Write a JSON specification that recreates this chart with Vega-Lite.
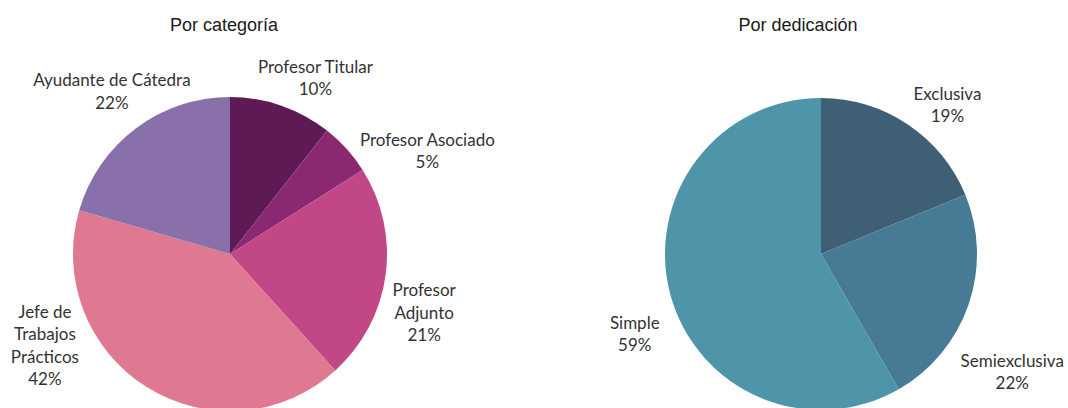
{
  "$schema": "https://vega.github.io/schema/vega-lite/v6.json",
  "padding": {"left": 0, "top": 16, "right": 0, "bottom": 0},
  "bounds": "flush",
  "spacing": 131,
  "config": {"view": {"stroke": null}},
  "resolve": {"scale": {"color": "independent", "theta": "independent"}},
  "hconcat": [
    {
      "width": 460,
      "height": 314,
      "title": {"text": "Por categoría", "font": "Liberation Sans", "fontSize": 18, "fontWeight": "normal", "color": "#1a1a1a", "anchor": "middle", "frame": "group", "baseline": "alphabetic", "offset": 10, "dx": -6},
      "data": {"values": [
        {"cat": "Profesor Titular", "v": 10.6, "o": 1, "label": "Profesor Titular\n10%"},
        {"cat": "Profesor Asociado", "v": 5.4, "o": 2, "label": "Profesor Asociado\n5%"},
        {"cat": "Profesor Adjunto", "v": 22.3, "o": 3, "label": "Profesor\nAdjunto\n21%"},
        {"cat": "Jefe de Trabajos Prácticos", "v": 41.2, "o": 4, "label": "Jefe de\nTrabajos\nPrácticos\n42%"},
        {"cat": "Ayudante de Cátedra", "v": 20.5, "o": 5, "label": "Ayudante de Cátedra\n22%"}
      ]},
      "encoding": {
        "theta": {"field": "v", "type": "quantitative", "stack": true},
        "order": {"field": "o", "type": "quantitative"}
      },
      "layer": [
        {
          "mark": {"type": "arc", "radius": 157},
          "encoding": {
            "color": {"field": "cat", "type": "nominal", "legend": null,
              "scale": {"domain": ["Profesor Titular", "Profesor Asociado", "Profesor Adjunto", "Jefe de Trabajos Prácticos", "Ayudante de Cátedra"],
                        "range": ["#5E1A55", "#8B2872", "#C14787", "#DF7891", "#8A70AA"]}}
          }
        },
        {
          "mark": {"type": "text", "radius": 200, "font": "Lato", "fontSize": 17, "fill": "#333333", "lineBreak": "\n", "lineHeight": 22.5,
            "dx": {"expr": "datum.cat === 'Profesor Titular' ? 20 : datum.cat === 'Profesor Asociado' ? 49 : datum.cat === 'Profesor Adjunto' ? -4 : datum.cat === 'Jefe de Trabajos Prácticos' ? -79 : 2"},
            "dy": {"expr": "datum.cat === 'Profesor Titular' ? 3 : datum.cat === 'Profesor Asociado' ? 21 : datum.cat === 'Profesor Adjunto' ? 10.5 : datum.cat === 'Jefe de Trabajos Prácticos' ? -111 : -13"}},
          "encoding": {"text": {"field": "label", "type": "nominal"}}
        }
      ]
    },
    {
      "width": 460,
      "height": 314,
      "title": {"text": "Por dedicación", "font": "Liberation Sans", "fontSize": 18, "fontWeight": "normal", "color": "#1a1a1a", "anchor": "middle", "frame": "group", "baseline": "alphabetic", "offset": 37, "dx": -23},
      "data": {"values": [
        {"cat": "Exclusiva", "v": 18.8, "o": 1, "label": "Exclusiva\n19%"},
        {"cat": "Semiexclusiva", "v": 22.9, "o": 2, "label": "Semiexclusiva\n22%"},
        {"cat": "Simple", "v": 58.3, "o": 3, "label": "Simple\n59%"}
      ]},
      "encoding": {
        "theta": {"field": "v", "type": "quantitative", "stack": true},
        "order": {"field": "o", "type": "quantitative"}
      },
      "layer": [
        {
          "mark": {"type": "arc", "radius": 156},
          "encoding": {
            "color": {"field": "cat", "type": "nominal", "legend": null,
              "scale": {"domain": ["Exclusiva", "Semiexclusiva", "Simple"],
                        "range": ["#3F5F75", "#477A95", "#4F95AA"]}}
          }
        },
        {
          "mark": {"type": "text", "radius": 200, "font": "Lato", "fontSize": 17, "fill": "#333333", "lineBreak": "\n", "lineHeight": 22.5,
            "dx": {"expr": "datum.cat === 'Exclusiva' ? 15 : datum.cat === 'Semiexclusiva' ? 2 : 7"},
            "dy": {"expr": "datum.cat === 'Exclusiva' ? 7 : datum.cat === 'Semiexclusiva' ? 43 : 18"}},
          "encoding": {"text": {"field": "label", "type": "nominal"}}
        }
      ]
    }
  ]
}
